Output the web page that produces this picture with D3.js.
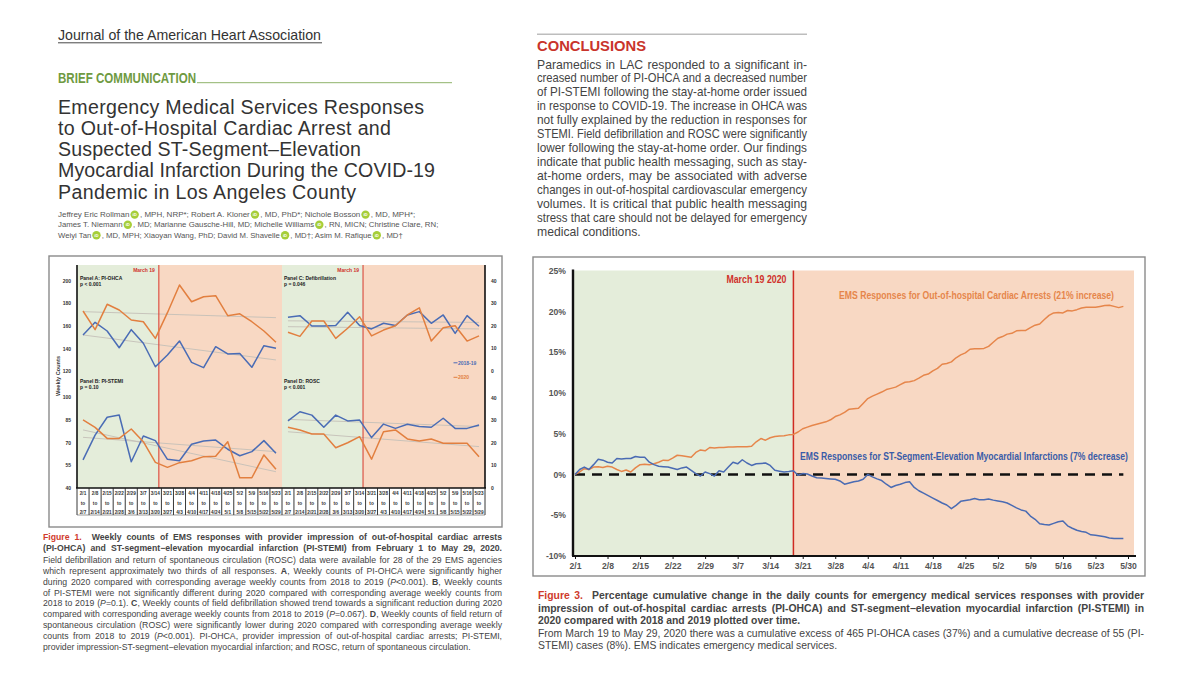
<!DOCTYPE html>
<html><head><meta charset="utf-8">
<script src="https://cdn.jsdelivr.net/npm/d3@7"></script>
<style>body{margin:0;background:#fff}svg{display:block}</style>
</head><body>
<svg id="c" width="1200" height="674"></svg>
<script>
// ---------------- DATA ----------------
const weeksFrom = ["2/1","2/8","2/15","2/22","2/29","3/7","3/14","3/21","3/28","4/4","4/11","4/18","4/25","5/2","5/9","5/16","5/23"];
const weeksTo   = ["2/7","2/14","2/21","2/28","3/6","3/13","3/20","3/27","4/3","4/10","4/17","4/24","5/1","5/8","5/15","5/22","5/29"];
const ohca2020  = [173.5,157,179.4,174.4,165.5,164,149.3,172,196.5,181.7,186.1,187,169.3,171,164,155.8,145.8];
const ohca1819  = [152.3,163.5,155.8,141,157,145,124.2,134.6,147,128.1,123.4,141.9,135.5,136,123.7,142.8,140.5];
const stemi2020 = [85.1,80.2,72.9,72.9,79.1,70.7,57,53.7,56.8,58.1,60.8,61.1,70.7,46.8,46.8,61.9,52.4];
const stemi1819 = [58.6,75.1,86.9,88.4,57.4,74.5,71.4,59,58.1,69,71.2,71.8,65.7,61.4,64.1,71.4,63];
const defib2020 = [17.2,15.4,22.2,22.2,14.5,19,24.1,15.6,18.2,20.1,24.9,28.1,13.3,19.2,20.1,13.3,15.6];
const defib1819 = [23.9,24.6,20,20,20.2,26.1,20.2,18.7,21.2,20.2,24.9,26.4,21.2,24.9,16.7,24.6,19.9];
const rosc2020  = [27,25.8,24,24,17.9,20.1,22.8,12.8,25,25.8,21.8,20.9,21.8,19.9,19.9,19.9,13.9];
const rosc1819  = [29.8,33.9,32.4,27,32.4,29.8,30.2,22.4,28.4,26.5,28.3,27.3,27,31,26.5,26.5,28];
// trend line [first week, last week] values
const trendA2020 = [172.9,167.6], trendA1819 = [152.3,130.2];
const trendB2020 = [78.5,50.8],   trendB1819 = [73.6,64.1];
const trendC2020 = [19.7,18.7],   trendC1819 = [22.3,21.6];
const trendD2020 = [25,18.4],     trendD1819 = [30.5,27.3];
const ticksA = [120,140,160,180,200];
const ticksB = [40,55,70,85,100];
const ticksCD = [0,10,20,30,40];

// Figure 3: daily cumulative % change, from 2020-02-01
const cumStart = "2020-02-01";
const cumOHCA = [0,0.3,0.7,0.6,0.9,0.95,0.85,1.0,0.9,0.6,0.37,0.55,0.3,0.8,1.2,1.25,1.2,1.3,1.5,1.75,
 1.7,2.0,2.35,2.3,2.2,2.1,2.7,3.0,2.9,3.3,3.25,3.3,3.3,3.35,3.35,3.4,3.4,3.4,3.45,4.0,
 4.4,4.2,4.5,4.65,4.7,4.75,4.85,4.9,5.2,5.6,5.8,6.0,6.15,6.3,6.45,6.7,7.1,7.3,7.6,8.0,
 8.05,8.1,8.7,9.3,9.6,9.85,10.1,10.4,10.55,10.7,11.0,11.3,11.35,11.5,11.8,12.15,12.3,12.7,13.0,13.5,
 13.6,13.8,14.3,14.65,14.9,15.35,15.4,15.4,15.45,15.7,16.2,16.7,16.9,17.2,17.3,17.6,17.65,17.65,18.0,18.3,
 18.45,19.0,19.5,19.8,19.85,19.8,20.1,20.05,20.2,20.4,20.5,20.5,20.5,20.6,20.7,20.75,20.6,20.45,20.6];
const cumSTEMI = [0,0.6,0.9,0.6,1.2,1.85,1.75,1.5,1.4,1.95,1.9,1.95,1.95,2.2,2.1,2.1,1.5,1.2,1.0,0.95,
 0.9,0.75,0.6,0.8,0.9,0.5,0.1,-0.2,0.3,0.1,-0.2,0.45,0.3,0.9,1.5,1.3,1.8,1.4,1.1,1.3,
 1.35,1.4,1.1,0.5,0.4,0.3,0.35,0.45,-0.1,0.1,0.05,-0.2,-0.4,-0.45,-0.5,-0.55,-0.6,-0.8,-1.2,-1.05,
 -0.9,-0.8,-0.6,0.0,-0.3,-0.55,-0.75,-1.2,-1.6,-1.35,-1.2,-1.0,-0.9,-1.6,-2.0,-2.3,-2.6,-2.9,-3.2,-3.5,
 -3.75,-4.2,-3.8,-3.3,-3.2,-3.1,-2.95,-3.1,-3.1,-3.0,-3.15,-3.25,-3.35,-3.5,-3.8,-4.1,-4.35,-4.5,-5.1,-5.5,
 -6.05,-6.15,-6.2,-6.0,-5.8,-5.7,-6.3,-6.6,-6.85,-7.0,-7.1,-7.4,-7.45,-7.55,-7.65,-7.8,-7.85,-7.85,-7.85];
const pctTicks = [-10,-5,0,5,10,15,20,25];
const dateTicks = ["2020-02-01","2020-02-08","2020-02-15","2020-02-22","2020-02-29","2020-03-07","2020-03-14","2020-03-21","2020-03-28","2020-04-04","2020-04-11","2020-04-18","2020-04-25","2020-05-02","2020-05-09","2020-05-16","2020-05-23","2020-05-30"];
const orderDate = "2020-03-19";

// ---------------- TEXT ----------------
const titleLines = ["Emergency Medical Services Responses","to Out-of-Hospital Cardiac Arrest and","Suspected ST-Segment\u2013Elevation","Myocardial Infarction During the COVID-19","Pandemic in Los Angeles County"];
const titleWidths = [366,333,303,377,298];
const authorLines = [
 ["Jeffrey Eric Rollman","@",", MPH, NRP*; Robert A. Kloner","@",", MD, PhD*; Nichole Bosson","@",", MD, MPH*;"],
 ["James T. Niemann","@",", MD; Marianne Gausche-Hill, MD; Michelle Williams","@",", RN, MICN; Christine Clare, RN;"],
 ["Weiyi Tan","@",", MD, MPH; Xiaoyan Wang, PhD; David M. Shavelle","@",", MD\u2020; Asim M. Rafique","@",", MD\u2020"]];
const authorEnds = [415,439,403];
const conclLines = ["Paramedics in LAC responded to a significant in-","creased number of PI-OHCA and a decreased number","of PI-STEMI following the stay-at-home order issued","in response to COVID-19. The increase in OHCA was","not fully explained by the reduction in responses for","STEMI. Field defibrillation and ROSC were significantly","lower following the stay-at-home order. Our findings","indicate that public health messaging, such as stay-","at-home orders, may be associated with adverse","changes in out-of-hospital cardiovascular emergency","volumes. It is critical that public health messaging","stress that care should not be delayed for emergency","medical conditions."];
const fig1Caption = [
 "r:Figure 1.|b:  Weekly counts of EMS responses with provider impression of out-of-hospital cardiac arrests",
 "b:(PI-OHCA) and ST-segment\u2212elevation myocardial infarction (PI-STEMI) from February 1 to May 29, 2020.",
 "Field defibrillation and return of spontaneous circulation (ROSC) data were available for 28 of the 29 EMS agencies",
 "which represent approximately two thirds of all responses. |b:A|, Weekly counts of PI-OHCA were significantly higher",
 "during 2020 compared with corresponding average weekly counts from 2018 to 2019 (|i:P|<0.001). |b:B|, Weekly counts",
 "of PI-STEMI were not significantly different during 2020 compared with corresponding average weekly counts from",
 "2018 to 2019 (|i:P|=0.1). |b:C|, Weekly counts of field defibrillation showed trend towards a significant reduction during 2020",
 "compared with corresponding average weekly counts from 2018 to 2019 (|i:P|=0.067). |b:D|, Weekly counts of field return of",
 "spontaneous circulation (ROSC) were significantly lower during 2020 compared with corresponding average weekly",
 "counts from 2018 to 2019 (|i:P|<0.001). PI-OHCA, provider impression of out-of-hospital cardiac arrests; PI-STEMI,",
 "provider impression-ST-segment\u2212elevation myocardial infarction; and ROSC, return of spontaneous circulation."];
const fig1CapY = [539.8,550.8,562.8,573.7,584.6,595.5,606.4,617.3,628.2,639.1,650];
const fig3Caption = [
 "r:Figure 3.|b:  Percentage cumulative change in the daily counts for emergency medical services responses with provider",
 "b:impression of out-of-hospital cardiac arrests (PI-OHCA) and ST-segment\u2212elevation myocardial infarction (PI-STEMI) in",
 "b:2020 compared with 2018 and 2019 plotted over time.",
 "From March 19 to May 29, 2020 there was a cumulative excess of 465 PI-OHCA cases (37%) and a cumulative decrease of 55 (PI-",
 "STEMI) cases (8%). EMS indicates emergency medical services."];
const fig3CapY = [598.6,611.7,624.2,636.9,649.3];
const fig3CapJust = [true,true,false,true,false];

// ---------------- HELPERS ----------------
const FONT = "'Liberation Sans', Arial, Helvetica, sans-serif";
const NARROW = "'Liberation Sans Narrow', 'Liberation Sans', Arial, sans-serif";
const RED = "#cf3a2c", BLUE = "#4a6cb5", ORANGE = "#e27f3f", GREEN_BG = "#e4edda", SALMON_BG = "#f8d8c3";
const svg = d3.select("#c");

function fit(t, w) {
  const n = t.node().getComputedTextLength();
  t.attr("textLength", w).attr("lengthAdjust", n > w ? "spacingAndGlyphs" : "spacing");
  return t;
}
// justify by widening word gaps (or squeezing glyphs if too long)
function justify(t, w) {
  const n = t.node().getComputedTextLength();
  const spaces = (t.text().match(/ /g) || []).length;
  if (n < w && spaces) t.attr("word-spacing", (w - n) / spaces);
  else t.attr("textLength", w).attr("lengthAdjust", "spacingAndGlyphs");
  return t;
}
function rich(g, x, y, str, o) {
  const t = g.append("text").attr("x", x).attr("y", y)
    .attr("font-family", o.font || FONT).attr("font-size", o.size).attr("fill", o.color || "#333")
    .style("white-space", "pre");
  str.split("|").forEach(seg => {
    const m = seg.match(/^(b|i|r):/);
    const s = t.append("tspan").text(m ? seg.slice(2) : seg);
    if (m && m[1] === "b") s.attr("font-weight", "bold");
    if (m && m[1] === "i") s.attr("font-style", "italic");
    if (m && m[1] === "r") s.attr("font-weight", "bold").attr("fill", RED);
  });
  if (o.width) justify(t, o.width);
  return t;
}

// ---------------- HEADER (left) ----------------
const head = svg.append("g");
fit(head.append("text").attr("x", 58).attr("y", 39.5).attr("font-family", FONT).attr("font-size", 15)
  .attr("fill", "#333").text("Journal of the American Heart Association"), 263);
head.append("line").attr("x1", 58).attr("x2", 322).attr("y1", 42.8).attr("y2", 42.8).attr("stroke", "#333").attr("stroke-width", 0.9);
fit(head.append("text").attr("x", 58).attr("y", 83).attr("font-family", NARROW).attr("font-weight", "bold")
  .attr("font-size", 14).attr("fill", "#6f9a42").text("BRIEF COMMUNICATION"), 138);
head.append("line").attr("x1", 197).attr("x2", 452).attr("y1", 82.7).attr("y2", 82.7).attr("stroke", "#8fb36a").attr("stroke-width", 1);
const titleY = [114, 135.3, 156.3, 177.3, 198.6];
titleLines.forEach((s, i) => fit(head.append("text").attr("x", 58).attr("y", titleY[i]).attr("font-family", FONT)
  .attr("font-size", 19.6).attr("fill", "#333").text(s), titleWidths[i]));

// authors with ORCID icons
const authY = [217.2, 227.4, 237.8];
authorLines.forEach((segs, li) => {
  const probe = head.append("text").attr("font-family", FONT).attr("font-size", 10).text(segs.filter(s => s !== "@").join(""));
  const natural = probe.node().getComputedTextLength(); probe.remove();
  const nIcons = segs.filter(s => s === "@").length;
  const size = 10 * (authorEnds[li] - 58 - nIcons * 10.5) / natural;
  let x = 58;
  segs.forEach(s => {
    if (s === "@") {
      head.append("circle").attr("cx", x + 5.2).attr("cy", authY[li] - 2.6).attr("r", 4.2).attr("fill", "#a6ce39");
      head.append("text").attr("x", x + 5.2).attr("y", authY[li] - 1.2).attr("text-anchor", "middle")
        .attr("font-family", FONT).attr("font-weight", "bold").attr("font-size", 4.2).attr("fill", "#fff").text("iD");
      x += 10.5;
    } else {
      const t = head.append("text").attr("x", x).attr("y", authY[li]).attr("font-family", FONT)
        .attr("font-size", size).attr("fill", "#555").style("white-space", "pre").text(s);
      x += t.node().getComputedTextLength();
    }
  });
});

// ---------------- CONCLUSIONS ----------------
const con = svg.append("g");
con.append("line").attr("x1", 537).attr("x2", 807).attr("y1", 34.3).attr("y2", 34.3).attr("stroke", "#bdbdbd").attr("stroke-width", 1.6);
fit(con.append("text").attr("x", 537).attr("y", 50.6).attr("font-family", FONT).attr("font-weight", "bold")
  .attr("font-size", 15).attr("fill", "#c9342b").text("CONCLUSIONS"), 109);
conclLines.forEach((s, i) => {
  const t = con.append("text").attr("x", 537).attr("y", 68.5 + 13.94 * i).attr("font-family", FONT)
    .attr("font-size", 12.2).attr("fill", "#444").text(s);
  if (i < conclLines.length - 1) justify(t, 270);
});

// ---------------- FIGURE 1 ----------------
const f1 = svg.append("g");
f1.append("rect").attr("x", 49).attr("y", 256).attr("width", 453).attr("height", 271)
  .attr("fill", "#fff").attr("stroke", "#8a8a8a").attr("stroke-width", 1.4);
const plotTop = 265, plotBot = 488, tableBot = 515;
const xL = d3.scaleBand().domain(d3.range(weeksFrom.length)).range([77, 282]).paddingInner(0).paddingOuter(0);
const xR = d3.scaleBand().domain(d3.range(weeksFrom.length)).range([282, 485]);
const cL = i => xL(i) + xL.bandwidth() / 2, cR = i => xR(i) + xR.bandwidth() / 2;
// March 19 is day 5 of the week starting 3/14 (index 6)
const mIdx = weeksFrom.indexOf("3/14");
const redL = xL(mIdx) + xL.bandwidth() * 5.5 / 7, redR = xR(mIdx) + xR.bandwidth() * 5.5 / 7;
const yA = d3.scaleLinear().domain([120, 200]).range([371.5, 281]);
const yB = d3.scaleLinear().domain([40, 100]).range([488, 397.5]);
const yC = d3.scaleLinear().domain([0, 40]).range([371, 281]);
const yD = d3.scaleLinear().domain([0, 40]).range([488, 398]);

[[xL, redL, 282], [xR, redR, 485]].forEach(([sx, rx, end]) => {
  f1.append("rect").attr("x", sx.range()[0]).attr("y", plotTop).attr("width", rx - sx.range()[0]).attr("height", plotBot - plotTop).attr("fill", GREEN_BG);
  f1.append("rect").attr("x", rx).attr("y", plotTop).attr("width", end - rx).attr("height", plotBot - plotTop).attr("fill", SALMON_BG);
});
// trend lines
const n = weeksFrom.length;
function trend(tr, cx, ys) {
  f1.append("line").attr("x1", cx(0)).attr("x2", cx(n - 1)).attr("y1", ys(tr[0])).attr("y2", ys(tr[1]))
    .attr("stroke", "#c4bfb8").attr("stroke-width", 0.9);
}
trend(trendA2020, cL, yA); trend(trendA1819, cL, yA); trend(trendB2020, cL, yB); trend(trendB1819, cL, yB);
trend(trendC2020, cR, yC); trend(trendC1819, cR, yC); trend(trendD2020, cR, yD); trend(trendD1819, cR, yD);
// red order lines
[redL, redR].forEach(rx => f1.append("line").attr("x1", rx).attr("x2", rx).attr("y1", plotTop).attr("y2", plotBot).attr("stroke", "#d9473a").attr("stroke-width", 1.1));
// series
function series(data, cx, ys, col) {
  f1.append("path").datum(data).attr("fill", "none").attr("stroke", col).attr("stroke-width", 1.5)
    .attr("stroke-linejoin", "round").attr("d", d3.line().x((d, i) => cx(i)).y(d => ys(d)));
}
series(ohca1819, cL, yA, BLUE); series(ohca2020, cL, yA, ORANGE);
series(stemi1819, cL, yB, BLUE); series(stemi2020, cL, yB, ORANGE);
series(defib1819, cR, yC, BLUE); series(defib2020, cR, yC, ORANGE);
series(rosc1819, cR, yD, BLUE); series(rosc2020, cR, yD, ORANGE);
// axes
f1.append("line").attr("x1", 77).attr("x2", 77).attr("y1", plotTop).attr("y2", plotBot).attr("stroke", "#111").attr("stroke-width", 1.6);
f1.append("line").attr("x1", 485).attr("x2", 485).attr("y1", plotTop).attr("y2", plotBot).attr("stroke", "#111").attr("stroke-width", 1.6);
f1.append("line").attr("x1", 76).attr("x2", 486).attr("y1", plotBot).attr("y2", plotBot).attr("stroke", "#111").attr("stroke-width", 1.6);
const tickTxt = {"font-family": FONT, "font-weight": "bold", "font-size": 5, "fill": "#333"};
function applyAttrs(sel, a) { Object.entries(a).forEach(([k, v]) => sel.attr(k, v)); return sel; }
[[ticksA, yA], [ticksB, yB]].forEach(([tk, ys]) => tk.forEach(v =>
  applyAttrs(f1.append("text"), tickTxt).attr("x", 71).attr("y", ys(v) + 1.8).attr("text-anchor", "end").text(v)));
[[ticksCD, yC], [ticksCD, yD]].forEach(([tk, ys]) => tk.forEach(v =>
  applyAttrs(f1.append("text"), tickTxt).attr("x", 491).attr("y", ys(v) + 1.8).text(v)));
applyAttrs(f1.append("text"), tickTxt).attr("font-size", 5.6).attr("transform", "translate(60,376) rotate(-90)")
  .attr("text-anchor", "middle").text("Weekly Counts");
// table of week ranges
[xL, xR].forEach(sx => {
  d3.range(n).forEach(i => {
    const cx = sx(i) + sx.bandwidth() / 2;
    [[weeksFrom[i], 495.2], ["to", 505.1], [weeksTo[i], 514]].forEach(([s, y]) =>
      applyAttrs(f1.append("text"), tickTxt).attr("font-size", 4.7).attr("x", cx).attr("y", y).attr("text-anchor", "middle").text(s));
    f1.append("line").attr("x1", sx(i)).attr("x2", sx(i)).attr("y1", plotBot).attr("y2", tableBot).attr("stroke", "#222").attr("stroke-width", 0.9);
  });
});
f1.append("line").attr("x1", 485).attr("x2", 485).attr("y1", plotBot).attr("y2", tableBot).attr("stroke", "#222").attr("stroke-width", 0.9);
f1.append("line").attr("x1", 77).attr("x2", 485).attr("y1", tableBot).attr("y2", tableBot).attr("stroke", "#555").attr("stroke-width", 0.6);
// panel labels
const pl = {"font-family": FONT, "font-weight": "bold", "font-size": 5, "fill": "#222"};
[["Panel A: PI-OHCA", "p < 0.001", 80, 279.5], ["Panel B: PI-STEMI", "p = 0.10", 80, 382.5],
 ["Panel C: Defibrillation", "p = 0.046", 284, 279.5], ["Panel D: ROSC", "p < 0.001", 284, 382.5]].forEach(([a, b, x, y]) => {
  applyAttrs(f1.append("text"), pl).attr("x", x).attr("y", y).text(a);
  applyAttrs(f1.append("text"), pl).attr("x", x).attr("y", y + 6).text(b);
});
[redL, redR].forEach(rx => applyAttrs(f1.append("text"), pl).attr("fill", "#d0302a").attr("x", rx - 4).attr("y", 271.8)
  .attr("text-anchor", "end").text("March 19"));
// legend
[["2018-19", BLUE, 364.5], ["2020", ORANGE, 379]].forEach(([s, col, y]) => {
  f1.append("line").attr("x1", 453.5).attr("x2", 457.5).attr("y1", y - 1.7).attr("y2", y - 1.7).attr("stroke", col).attr("stroke-width", 1);
  applyAttrs(f1.append("text"), pl).attr("fill", col).attr("x", 458).attr("y", y).text(s);
});
// caption
fig1Caption.forEach((s, i) => rich(f1, 43, fig1CapY[i], s, {size: 8.7, color: "#444", width: i < fig1Caption.length - 1 ? 459 : null}));

// ---------------- FIGURE 3 ----------------
const f3 = svg.append("g");
f3.append("rect").attr("x", 533).attr("y", 257).attr("width", 612).attr("height", 319)
  .attr("fill", "#fff").attr("stroke", "#8a8a8a").attr("stroke-width", 1.4);
const parse = d3.utcParse("%Y-%m-%d");
const d0 = parse(cumStart);
const days = cumOHCA.map((_, i) => d3.utcDay.offset(d0, i));
const x3 = d3.scaleUtc().domain([parse("2020-02-01"), parse("2020-05-30")]).range([575, 1128]);
const y3 = d3.scaleLinear().domain([-10, 25]).range([556, 270.5]);
const xOrder = x3(parse(orderDate));
f3.append("rect").attr("x", 573).attr("y", y3(25)).attr("width", xOrder - 573).attr("height", y3(-10) - y3(25)).attr("fill", GREEN_BG);
f3.append("rect").attr("x", xOrder).attr("y", y3(25)).attr("width", 1134 - xOrder).attr("height", y3(-10) - y3(25)).attr("fill", SALMON_BG);
f3.append("line").attr("x1", xOrder).attr("x2", xOrder).attr("y1", y3(25)).attr("y2", y3(-10)).attr("stroke", "#cf2a22").attr("stroke-width", 1.5);
// zero dashed
f3.append("line").attr("x1", x3(days[0])).attr("x2", x3(days[days.length - 1])).attr("y1", y3(0)).attr("y2", y3(0))
  .attr("stroke", "#111").attr("stroke-width", 2.4).attr("stroke-dasharray", "10,7");
const ln3 = d3.line().x((d, i) => x3(days[i])).y(d => y3(d));
f3.append("path").datum(cumOHCA).attr("fill", "none").attr("stroke", "#e6864b").attr("stroke-width", 1.5).attr("stroke-linejoin", "round").attr("d", ln3);
f3.append("path").datum(cumSTEMI).attr("fill", "none").attr("stroke", "#4a6bb3").attr("stroke-width", 1.5).attr("stroke-linejoin", "round").attr("d", ln3);
// axes
const ax = f3.append("g").attr("transform", `translate(0,${y3(-10)})`)
  .call(d3.axisBottom(x3).tickValues(dateTicks.map(parse)).tickFormat(d3.utcFormat("%-m/%-d")).tickSize(3).tickPadding(4).tickSizeOuter(0));
ax.select(".domain").remove();
ax.selectAll(".tick line").attr("stroke", "#111").attr("stroke-width", 1);
ax.selectAll("text").attr("font-family", FONT).attr("font-weight", "bold").attr("font-size", 8.6).attr("fill", "#555");
f3.append("line").attr("x1", 572).attr("x2", 1136).attr("y1", y3(-10)).attr("y2", y3(-10)).attr("stroke", "#111").attr("stroke-width", 2);
const ay = f3.append("g").attr("transform", "translate(573,0)")
  .call(d3.axisLeft(y3).tickValues(pctTicks).tickFormat(d => d + "%").tickSize(0).tickPadding(7));
ay.select(".domain").remove();
ay.selectAll("text").attr("font-family", FONT).attr("font-weight", "bold").attr("font-size", 8.6).attr("fill", "#555");
f3.append("line").attr("x1", 573).attr("x2", 573).attr("y1", y3(25) - 1).attr("y2", y3(-10)).attr("stroke", "#111").attr("stroke-width", 2.4);
// annotations
fit(f3.append("text").attr("x", xOrder - 7).attr("y", 283.2).attr("text-anchor", "end").attr("font-family", NARROW)
  .attr("font-weight", "bold").attr("font-size", 10).attr("fill", "#d0302a").text("March 19 2020"), 60);
fit(f3.append("text").attr("x", 839).attr("y", 299).attr("font-family", NARROW).attr("font-weight", "bold")
  .attr("font-size", 10).attr("fill", "#e6864b").text("EMS Responses for Out-of-hospital Cardiac Arrests (21% increase)"), 275);
fit(f3.append("text").attr("x", 800).attr("y", 460).attr("font-family", NARROW).attr("font-weight", "bold")
  .attr("font-size", 10).attr("fill", "#3a5ca8").text("EMS Responses for ST-Segment-Elevation Myocardial Infarctions (7% decrease)"), 328);
// caption
fig3Caption.forEach((s, i) => rich(f3, 538, fig3CapY[i], s, {size: 10.4, color: "#444", width: fig3CapJust[i] ? 606 : null}));
</script>
</body></html>
